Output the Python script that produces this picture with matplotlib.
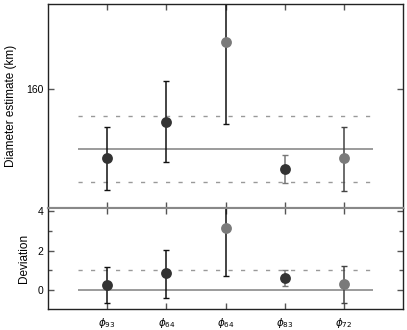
import matplotlib
matplotlib.use("Agg")
import matplotlib.pyplot as plt
import numpy as np

plt.rcParams['font.family'] = ['Liberation Sans', 'DejaVu Sans']
plt.rcParams['mathtext.fontset'] = 'dejavusans'

labels = [r'$\phi_{93}$', r'$\phi_{64}$', r'$\phi_{64}$', r'$\phi_{83}$', r'$\phi_{72}$']
diam = [114.0, 138.0, 191.3, 106.7, 114.0]
diam_hi = [134.7, 165.3, 260.0, 116.0, 134.7]
diam_lo = [92.7, 111.3, 136.7, 97.3, 92.0]
mean_d = 120.0
sigma_d = 22.3
dev = [0.27, 0.85, 3.18, 0.62, 0.29]
dev_hi = [1.18, 2.03, 5.0, 1.01, 1.23]
dev_lo = [-0.66, -0.39, 0.73, 0.20, -0.67]
colors = ['#333333', '#333333', '#7a7a7a', '#333333', '#7a7a7a']
ecolors = ['#111111', '#111111', '#111111', '#777777', '#444444']

x = np.arange(1, len(labels) + 1)

fig = plt.figure(figsize=(4.07, 3.30), dpi=100)
ax1 = fig.add_axes([48/407, 1-207.5/330, 355/407, 203.5/330])
ax2 = fig.add_axes([48/407, 1-309/330, 355/407, 101.5/330])

def draw(ax, vals, hi, lo, mean, sd, dashed_both):
    ax.hlines(mean, 0.5, 5.5, color='#8a8a8a', lw=1.2, zorder=1)
    ax.hlines(mean + sd, 0.5, 5.5, color='#999999', lw=1.0, linestyles=(0, (3, 6)), zorder=1)
    if dashed_both:
        ax.hlines(mean - sd, 0.5, 5.5, color='#999999', lw=1.0, linestyles=(0, (3, 6)), zorder=1)
    for xi, v, h, l, c, ec in zip(x, vals, hi, lo, colors, ecolors):
        _, caps, _ = ax.errorbar([xi], [v], yerr=[[v - l], [h - v]], fmt='none',
                                 ecolor=ec, elinewidth=1.1, capsize=2.2, capthick=1.0, zorder=2)
        for cp in caps:
            cp.set_color('#111111')
        ax.plot([xi], [v], 'o', color=c, markersize=7.8, markeredgewidth=0, zorder=3)
    ax.set_xlim(0, 6)
    ax.set_xticks(x)
    ax.tick_params(direction='in', length=4, width=1, top=True, right=True,
                   labelsize=7.5, color='#555555')
    ax.tick_params(which='minor', direction='in', length=3, width=1, right=True, color='#555555')

draw(ax1, diam, diam_hi, diam_lo, mean_d, sigma_d, True)
ax1.set_ylim(81.0, 216.7)
ax1.set_yticks([160])
ax1.set_xticklabels([])
ax1.set_ylabel('Diameter estimate (km)', fontsize=8.5, labelpad=6)

draw(ax2, dev, dev_hi, dev_lo, 0.0, 1.0, False)
ax2.set_ylim(-0.97, 4.2)
ax2.set_yticks([0, 2, 4])
ax2.set_yticks([1, 3], minor=True)
ax2.set_xticklabels(labels, fontsize=7.5)
ax2.tick_params(axis='x', pad=5)
ax2.set_ylabel('Deviation', fontsize=8.5, labelpad=5)

for ax in (ax1, ax2):
    for s in ax.spines.values():
        s.set_linewidth(1.0)
        s.set_color('#222222')
ax1.spines['bottom'].set_color('#888888')
ax1.spines['bottom'].set_linewidth(1.5)
ax2.spines['top'].set_color('#888888')
ax2.spines['top'].set_linewidth(1.5)

fig.savefig('out.png', dpi=100)
